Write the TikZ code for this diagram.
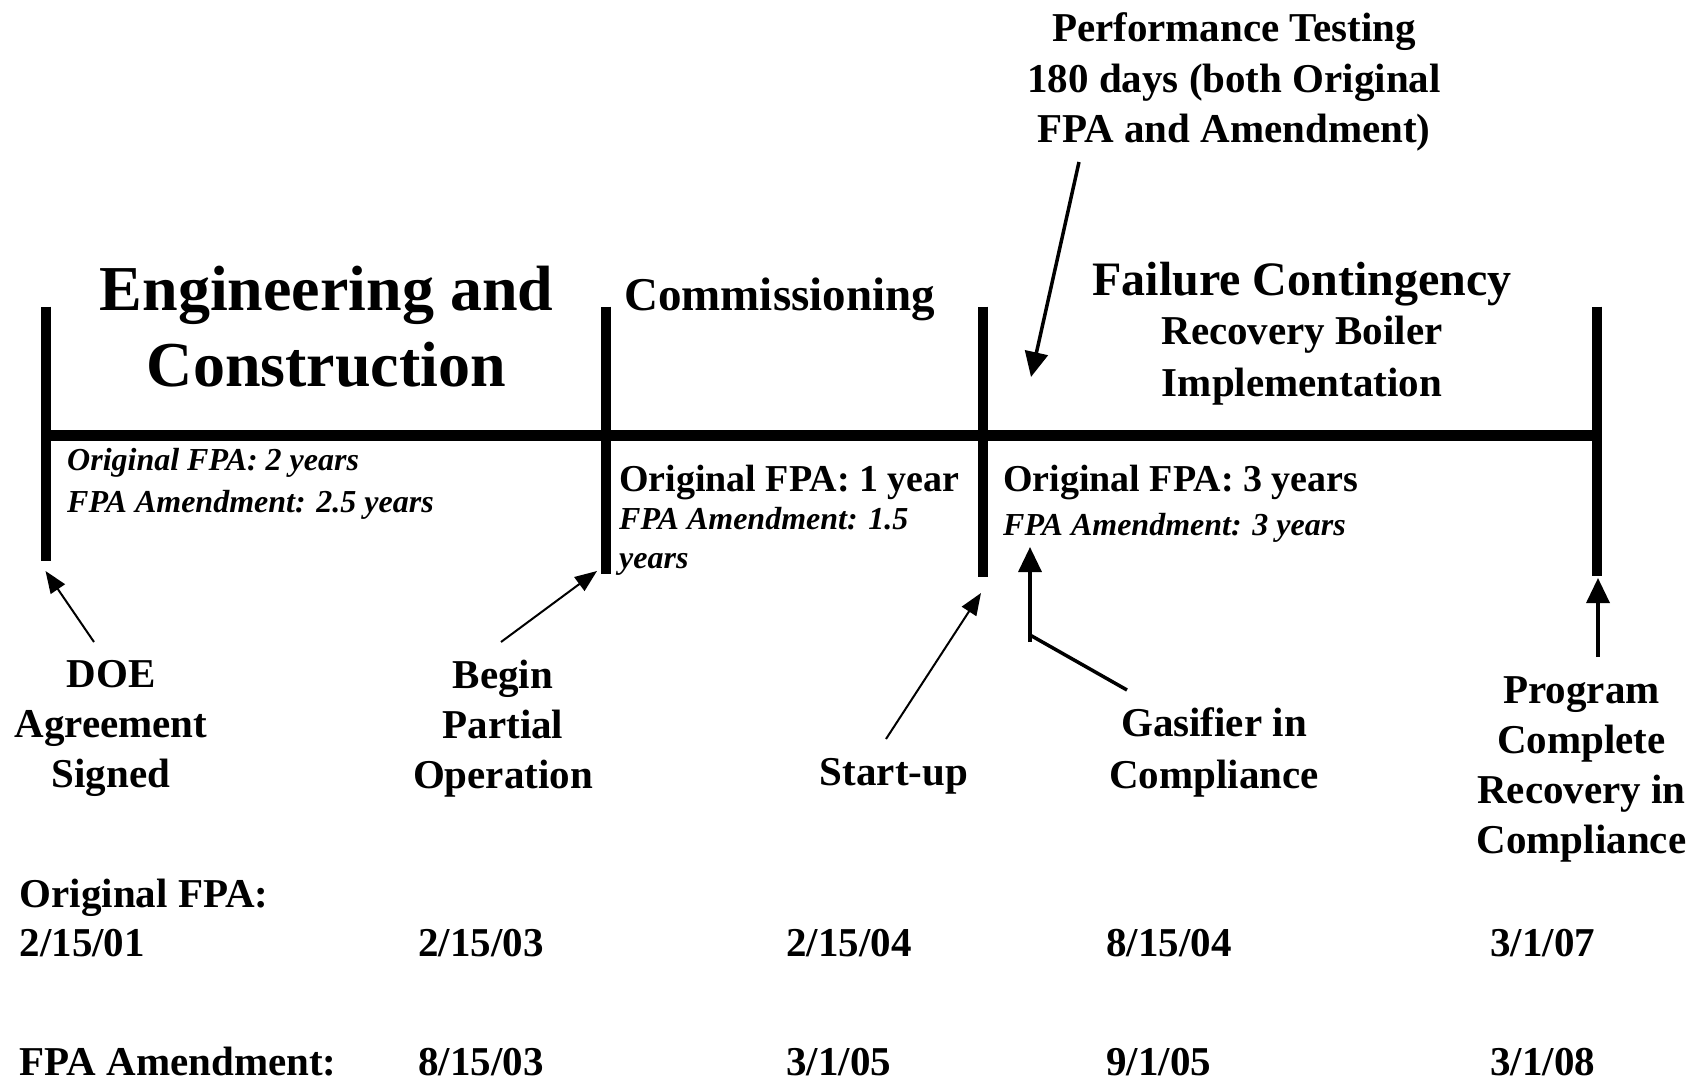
\documentclass[tikz,border=0pt]{standalone}
\usepackage{fontspec}
\setmainfont{Liberation Serif}
\usetikzlibrary{arrows.meta}
\begin{document}
\begin{tikzpicture}[x=1pt,y=-1pt,
  bar/.style={line width=10pt},
  axisline/.style={line width=11pt},
  thinarrow/.style={line width=2pt,-{Triangle[length=22pt,width=17pt]}},
  thickarrow/.style={line width=3.5pt,-{Triangle[length=25pt,width=23pt]}},
  thickline/.style={line width=3.5pt},
  lbl/.style={inner sep=0pt,font=\bfseries\fontsize{41}{50}\selectfont,align=center},
  note/.style={inner sep=0pt,align=left,anchor=north west},
  datelbl/.style={inner sep=0pt,font=\bfseries\fontsize{41}{50}\selectfont,anchor=base west}
]
\fill[white] (0,0) rectangle (1698,1081);
\useasboundingbox (0,0) rectangle (1698,1081);

% timeline bars
\coordinate (b1t) at (46,306.5);   \coordinate (b1b) at (46,561);
\coordinate (b2t) at (605.5,306.5); \coordinate (b2b) at (605.5,574);
\coordinate (b3t) at (983,306.5);  \coordinate (b3b) at (983,577);
\coordinate (b4t) at (1597,306.5); \coordinate (b4b) at (1597,576);
\coordinate (axL) at (46,435.5);   \coordinate (axR) at (1597,435.5);
\draw[axisline] (axL) -- (axR);
\draw[bar] (b1t) -- (b1b);
\draw[bar] (b2t) -- (b2b);
\draw[bar] (b3t) -- (b3b);
\draw[bar] (b4t) -- (b4b);

% phase titles
\node[lbl,font=\bfseries\fontsize{64}{76}\selectfont,anchor=north] (eng) at (326.5,265.5) {Engineering and\\Construction};
\node[inner sep=0pt,font=\bfseries\fontsize{47}{56}\selectfont,anchor=base west] (comm) at (624,310) {Commissioning};
\node[inner sep=0pt,font=\bfseries\fontsize{48}{56}\selectfont,anchor=base] (fail) at (1302,295) {Failure Contingency};
\node[lbl,font=\bfseries\fontsize{41}{52}\selectfont,anchor=north] (rbi) at (1302,316) {Recovery Boiler\\Implementation};
\node[lbl,font=\bfseries\fontsize{41}{50.5}\selectfont,anchor=north] (perf) at (1234,12.5) {Performance Testing\\180 days (both Original\\FPA and Amendment)};

% durations
\node[note,font=\bfseries\itshape\fontsize{32}{42}\selectfont] (p1) at (67,448) {Original FPA: 2 years\\FPA Amendment: 2.5 years};
\node[note,font=\bfseries\itshape\fontsize{32}{38.5}\selectfont] (p2) at (619,464.5) {{\upshape\fontsize{38}{38.5}\selectfont Original FPA: 1 year}\\FPA Amendment: 1.5\\years};
\node[note,font=\bfseries\itshape\fontsize{32}{44}\selectfont] (p3) at (1003,464.5) {{\upshape\fontsize{38}{44}\selectfont Original FPA: 3 years}\\FPA Amendment: 3 years};

% milestones
\node[lbl,anchor=north] (doe) at (111,660) {DOE\\Agreement\\Signed};
\node[lbl,anchor=north] (begin) at (503,659.5) {Begin\\Partial\\Operation};
\node[lbl,anchor=base] (start) at (894,785) {Start-up};
\node[lbl,font=\bfseries\fontsize{41}{52}\selectfont,anchor=north] (gas) at (1214,707.5) {Gasifier in\\Compliance};
\node[lbl,anchor=north] (prog) at (1581.5,676.5) {Program\\Complete\\Recovery in\\Compliance};

% dates
\node[datelbl] (origlbl) at (19.5,907) {Original FPA:};
\node[datelbl] (o1) at (19.5,956) {2/15/01};
\node[datelbl] (o2) at (418,956) {2/15/03};
\node[datelbl] (o3) at (786,956) {2/15/04};
\node[datelbl] (o4) at (1106,956) {8/15/04};
\node[datelbl] (o5) at (1490,956) {3/1/07};
\node[datelbl] (amdlbl) at (19.5,1075) {FPA Amendment:};
\node[datelbl] (a2) at (418,1075) {8/15/03};
\node[datelbl] (a3) at (786,1075) {3/1/05};
\node[datelbl] (a4) at (1106,1075) {9/1/05};
\node[datelbl] (a5) at (1490,1075) {3/1/08};

% arrows
\coordinate (doeTail) at (94,642);     \coordinate (doeTip) at (45.5,571);
\coordinate (beginTail) at (501,642);  \coordinate (beginTip) at (597,571);
\coordinate (startTail) at (886,739);  \coordinate (startTip) at (981,593);
\coordinate (gasTail) at (1127,690);   \coordinate (gasBend) at (1030,635);
\coordinate (gasFoot) at (1030,642);   \coordinate (gasTip) at (1030,547);
\coordinate (progTail) at (1598,657);  \coordinate (progTip) at (1598,578);
\coordinate (perfTail) at (1079,162);  \coordinate (perfTip) at (1031,377);
\draw[thinarrow] (doeTail) -- (doeTip);
\draw[thinarrow] (beginTail) -- (beginTip);
\draw[thinarrow] (startTail) -- (startTip);
\draw[thickline] (gasTail) -- (gasBend);
\draw[thickarrow] (gasFoot) -- (gasTip);
\draw[thickarrow] (progTail) -- (progTip);
\draw[thickarrow] (perfTail) -- (perfTip);
\end{tikzpicture}
\end{document}
